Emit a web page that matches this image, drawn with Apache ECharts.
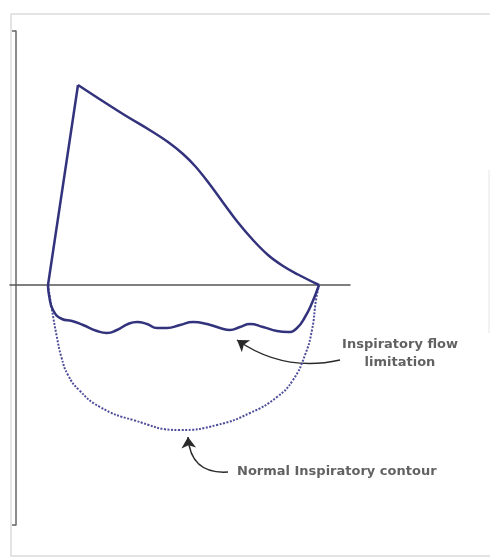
<!DOCTYPE html>
<html>
<head>
<meta charset="utf-8">
<script src="https://cdn.jsdelivr.net/npm/echarts@6/dist/echarts.min.js"></script>
<style>
  html, body { margin: 0; padding: 0; background: #fff; }
  #chart { width: 490px; height: 557px; }
</style>
</head>
<body>
<div id="chart"></div>
<script>
// volume (L) on x, flow (L/s) on y
const expiratory = [
  [0, 0], [0.6, 8.0], [1.2, 7.22], [1.58, 6.74], [2.0, 6.24], [2.4, 5.72],
  [2.7, 5.24], [2.94, 4.76], [3.2, 4.12], [3.5, 3.3], [3.8, 2.5],
  [4.1, 1.8], [4.4, 1.2], [4.7, 0.76], [5.0, 0.42], [5.42, 0]
]
const limitedInspiration = [
  [0, 0], [0.02, -0.4], [0.1, -1.0], [0.28, -1.36], [0.48, -1.44], [0.7, -1.6],
  [0.98, -1.84], [1.18, -1.92], [1.38, -1.8], [1.6, -1.56], [1.78, -1.48],
  [1.98, -1.56], [2.18, -1.72], [2.38, -1.72], [2.64, -1.6], [2.9, -1.48],
  [3.18, -1.56], [3.44, -1.72], [3.64, -1.8], [3.84, -1.68], [4.04, -1.56],
  [4.3, -1.68], [4.58, -1.84], [4.8, -1.88], [4.98, -1.72], [5.14, -1.28],
  [5.28, -0.72], [5.42, 0]
]
const normalInspiration = [
  [0, 0], [0.08, -1.0], [0.17, -2.0], [0.27, -2.9], [0.4, -3.6], [0.62, -4.2],
  [1.04, -4.88], [1.7, -5.4], [2.64, -5.8], [3.38, -5.6], [4.04, -5.12],
  [4.58, -4.48], [4.9, -3.8], [5.14, -2.8], [5.28, -1.8], [5.36, -0.6], [5.42, 0]
]
const noteLabels = ['Inspiratory flow\nlimitation', 'Normal Inspiratory contour']
const notePoints = [[7.04, -2.76], [3.78, -7.48]]
const arrowPaths = [
  [[5.84, -3.0], [3.78, -2.2]],
  [[3.6, -7.48], [2.8, -6.08]]
]
const volumeRange = [-0.76, 6.04]
const flowRange = [-9.6, 10.16]

const chart = echarts.init(document.getElementById('chart'))
const navy = '#33337d'

chart.setOption({
  backgroundColor: '#fff',
  animation: false,
  grid: { left: 10, right: 140, top: 31, bottom: 32 },
  xAxis: {
    type: 'value',
    min: volumeRange[0],
    max: volumeRange[1],
    axisLine: { onZero: true, lineStyle: { color: '#555', width: 1.5 } },
    axisTick: { show: false },
    axisLabel: { show: false },
    splitLine: { show: false }
  },
  yAxis: {
    type: 'value',
    min: flowRange[0],
    max: flowRange[1],
    offset: -6,
    axisLine: { show: true, onZero: false, lineStyle: { color: '#666', width: 1.5 } },
    axisTick: { show: true, customValues: flowRange, length: 4, lineStyle: { color: '#666', width: 1.5 } },
    axisLabel: { show: false },
    splitLine: { show: false }
  },
  graphic: [
    { type: 'polyline', shape: { points: [[490, 14], [11, 14], [11, 556], [490, 556]] },
      style: { stroke: '#dcdcdc', lineWidth: 1.5, fill: null }, silent: true },
    { type: 'line', shape: { x1: 489, y1: 170, x2: 489, y2: 333 },
      style: { stroke: '#e6e6e6', lineWidth: 1 }, silent: true }
  ],
  series: [
    {
      type: 'line', data: normalInspiration, smooth: 0.5, showSymbol: false,
      lineStyle: { color: '#4d4d9a', width: 2, type: [2, 1.5] }
    },
    {
      // steep rise to peak flow
      type: 'line', data: expiratory.slice(0, 2), showSymbol: false,
      lineStyle: { color: navy, width: 2.5 }
    },
    {
      // descending limb
      type: 'line', data: expiratory.slice(1), smooth: 0.4, showSymbol: false,
      lineStyle: { color: navy, width: 2.5 }
    },
    {
      type: 'line', data: limitedInspiration, smooth: 0.5, showSymbol: false,
      lineStyle: { color: navy, width: 2.5 }
    },
    {
      type: 'lines', coordinateSystem: 'cartesian2d', clip: false,
      symbol: ['none', 'arrow'], symbolSize: 11,
      lineStyle: { color: '#2a2a2a', width: 1.5, opacity: 1 },
      itemStyle: { color: '#1a1a1a' },
      data: arrowPaths.map((coords, i) => ({
        coords,
        lineStyle: { curveness: i === 0 ? 0.22 : 0.5 }
      }))
    },
    {
      type: 'scatter', clip: false, symbolSize: 0,
      data: notePoints.map((p, i) => ({
        value: p,
        label: {
          show: true,
          formatter: noteLabels[i],
          position: i === 0 ? 'inside' : 'right',
          distance: 0,
          align: i === 0 ? 'center' : 'left',
          fontFamily: 'DejaVu Sans',
          fontWeight: 'bold',
          fontSize: 13,
          lineHeight: 18,
          color: '#3a3a3a'
        }
      }))
    }
  ]
})
</script>
</body>
</html>
